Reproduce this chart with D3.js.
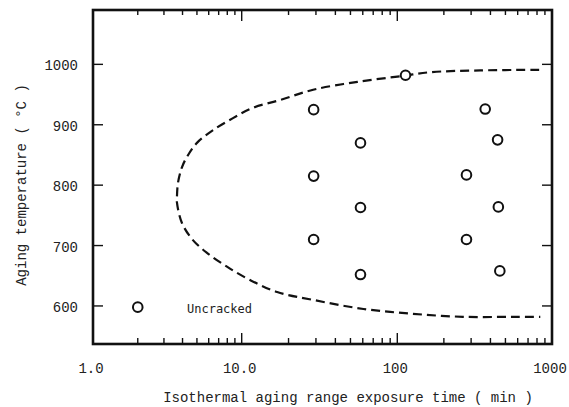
<!DOCTYPE html>
<html>
<head>
<meta charset="utf-8">
<script src="https://cdn.jsdelivr.net/npm/d3@7"></script>
<style>
  html, body { margin: 0; padding: 0; background: #fff; }
  svg { display: block; }
  text { fill: #222; }
</style>
</head>
<body>
<svg id="chart" width="569" height="407"></svg>
<script>
// Aging exposure time (min) and temperature (°C) of the tested specimens
const pointTime = [2.0, 29, 29, 29, 58, 58, 58, 113, 280, 280, 370, 445, 450, 460];
const pointTemp = [598, 925, 815, 710, 870, 763, 652, 982, 817, 710, 926, 875, 764, 658];

// C-curve boundary: upper branch from long times back to the nose, then lower branch
const curveTime = [826, 344, 163, 109, 55.5, 28.8, 17.7, 11.8, 8.74, 6.41, 5.0, 4.29, 3.97, 3.73, 3.67,
                   3.67, 3.97, 4.70, 5.84, 7.96, 11.3, 16.9, 28.8, 60.6, 126, 266, 561, 840];
const curveTemp = [991, 990, 987, 981, 971, 958, 941, 928, 911, 891, 870, 847, 830, 804, 781,
                   771, 737, 709, 688, 665, 643, 623, 610, 595, 587, 582, 582, 582];

const xTickValues = [1, 10, 100, 1000];
const xTickLabels = ["1.0", "10.0", "100", "1000"];
const yTickValues = [600, 700, 800, 900, 1000];
const legendLabel = "Uncracked";
const xTitle = "Isothermal aging range exposure time ( min )";
const yTitle = "Aging temperature  ( °C )";

(function () {
  const svg = d3.select("#chart");
  const plotLeft = 93, plotRight = 552, plotTop = 10, plotBottom = 344;

  const x = d3.scaleLog()
    .domain([1, 10, 100, 1000])
    .range([plotLeft, 241.7, 397.3, plotRight]);
  const y = d3.scaleLinear()
    .domain([537, 1090])
    .range([plotBottom, plotTop]);

  const mono = "'Liberation Mono', 'Courier New', monospace";

  // minor ticks for the log axis
  const minorTicks = [];
  [1, 10, 100].forEach(d => { for (let k = 2; k <= 9; k++) minorTicks.push(d * k); });

  const tickG = svg.append("g").attr("stroke", "#111").attr("stroke-width", 1.4);
  // bottom and top ticks, pointing inward
  minorTicks.forEach(v => {
    tickG.append("line").attr("x1", x(v)).attr("x2", x(v)).attr("y1", plotBottom).attr("y2", plotBottom - 6);
    tickG.append("line").attr("x1", x(v)).attr("x2", x(v)).attr("y1", plotTop).attr("y2", plotTop + 5);
  });
  [10, 100].forEach(v => {
    tickG.append("line").attr("x1", x(v)).attr("x2", x(v)).attr("y1", plotBottom).attr("y2", plotBottom - 11);
    tickG.append("line").attr("x1", x(v)).attr("x2", x(v)).attr("y1", plotTop).attr("y2", plotTop + 11);
  });
  // left and right ticks
  yTickValues.forEach(v => {
    tickG.append("line").attr("x1", plotLeft).attr("x2", plotLeft + 10).attr("y1", y(v)).attr("y2", y(v));
    tickG.append("line").attr("x1", plotRight).attr("x2", plotRight - 10).attr("y1", y(v)).attr("y2", y(v));
  });

  // frame
  svg.append("rect")
    .attr("x", plotLeft).attr("y", plotTop)
    .attr("width", plotRight - plotLeft).attr("height", plotBottom - plotTop)
    .attr("fill", "none").attr("stroke", "#111").attr("stroke-width", 2.6);

  // tick labels
  svg.append("g").selectAll("text")
    .data(xTickValues)
    .join("text")
    .attr("x", d => x(d) - 2)
    .attr("y", 373)
    .attr("text-anchor", "middle")
    .attr("font-family", mono).attr("font-size", 14)
    .text((d, i) => xTickLabels[i]);

  svg.append("g").selectAll("text")
    .data(yTickValues)
    .join("text")
    .attr("x", 78)
    .attr("y", d => y(d) + 6)
    .attr("text-anchor", "end")
    .attr("font-family", mono).attr("font-size", 14)
    .text(d => d);

  // axis titles
  svg.append("text")
    .attr("x", 348).attr("y", 402)
    .attr("text-anchor", "middle")
    .attr("font-family", mono).attr("font-size", 14)
    .text(xTitle);

  svg.append("text")
    .attr("transform", "translate(26,185) rotate(-90)")
    .attr("text-anchor", "middle")
    .attr("font-family", mono).attr("font-size", 14)
    .text(yTitle);

  // boundary curve
  const curveData = curveTime.map((t, i) => [t, curveTemp[i]]);
  svg.append("path")
    .datum(curveData)
    .attr("fill", "none")
    .attr("stroke", "#111")
    .attr("stroke-width", 2.2)
    .attr("stroke-dasharray", "9,5")
    .attr("d", d3.line().x(d => x(d[0])).y(d => y(d[1])).curve(d3.curveCatmullRom.alpha(0.5)));

  // specimens
  svg.append("g").selectAll("circle")
    .data(pointTime.map((t, i) => [t, pointTemp[i]]))
    .join("circle")
    .attr("cx", d => x(d[0]))
    .attr("cy", d => y(d[1]))
    .attr("r", 4.8)
    .attr("fill", "#fff")
    .attr("stroke", "#111")
    .attr("stroke-width", 2);

  // label beside the short-time specimen
  svg.append("text")
    .attr("x", 187).attr("y", 313)
    .attr("font-family", "'DejaVu Sans Mono', monospace").attr("font-size", 12)
    .text(legendLabel);
})();
</script>
</body>
</html>
